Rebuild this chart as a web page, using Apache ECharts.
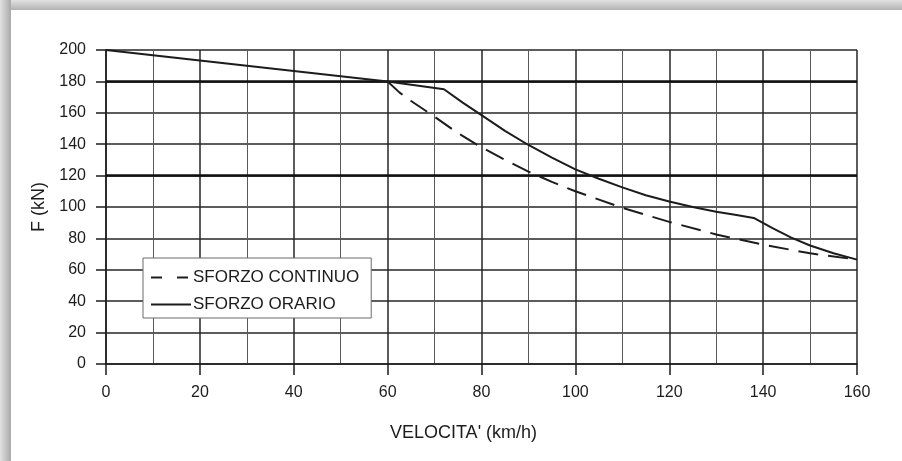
<!DOCTYPE html>
<html>
<head>
<meta charset="utf-8">
<script src="https://cdn.jsdelivr.net/npm/echarts@6/dist/echarts.min.js"></script>
<style>
  html, body { margin: 0; padding: 0; background: #ffffff; }
  #topStrip { position: absolute; left: 0; top: 0; width: 902px; height: 10px;
    background: linear-gradient(to bottom, #e2e2e2, #b2b2b2); }
  #leftStrip { position: absolute; left: 0; top: 0; width: 11px; height: 461px;
    background: linear-gradient(to right, #e2e2e2, #a9a9a9); }
  #chart { position: absolute; left: 0; top: 0; width: 902px; height: 461px; }
</style>
</head>
<body>
<div id="topStrip"></div>
<div id="leftStrip"></div>
<div id="chart"></div>
<script>
// ---- data ----
const xTicks = [0, 20, 40, 60, 80, 100, 120, 140, 160];
const yTicks = [0, 20, 40, 60, 80, 100, 120, 140, 160, 180, 200];

const orarioSpeed = [0, 60, 72, 76, 80, 85, 90, 95, 100, 105, 110, 115, 120, 125, 130, 134, 138, 142, 146, 150, 155, 160];
const orarioForce = [200, 180, 175, 166.5, 158.5, 148.5, 139.5, 131.5, 124, 118, 112.5, 107.5, 103.5, 100, 97, 95, 93, 86.5, 80.5, 75.5, 70.5, 66.5];

const continuoSpeed = [60, 62.5, 65, 70, 75, 80, 85, 90, 95, 100, 110, 120, 130, 140, 150, 160];
const continuoForce = [180, 173, 167.5, 157.5, 147, 138, 130, 122.5, 116, 110, 99.5, 90.5, 82.5, 76, 70.5, 66.5];

const thickLevels = [180, 120];

const seriesNames = ['SFORZO CONTINUO', 'SFORZO ORARIO'];
const xName = "VELOCITA' (km/h)";
const yName = 'F (kN)';

const pair = (xs, ys) => xs.map((x, i) => [x, ys[i]]);

const FONT = 'Liberation Sans, Arial, Helvetica, sans-serif';
const INK = '#1c1c1c';

const chart = echarts.init(document.getElementById('chart'), null, { renderer: 'canvas' });
chart.setOption({
  backgroundColor: 'transparent',
  animation: false,
  grid: { left: 106, right: 45, top: 50, bottom: 97, containLabel: false },
  legend: {
    data: [
      { name: seriesNames[0], lineStyle: { type: [11, 15], width: 2 } },
      { name: seriesNames[1], lineStyle: { type: 'solid', width: 2 } }
    ],
    orient: 'vertical',
    left: 143,
    top: 258,
    itemWidth: 40,
    itemHeight: 20,
    itemGap: 10,
    padding: [11, 12, 5, 7],
    backgroundColor: '#ffffff',
    borderColor: '#6a6a6a',
    borderWidth: 1,
    borderRadius: 0,
    selectedMode: false,
    itemStyle: { opacity: 0 },
    textStyle: { fontFamily: FONT, fontSize: 17, color: INK, padding: [0, 0, 0, -3] }
  },
  xAxis: {
    type: 'value',
    min: 0,
    max: 160,
    interval: 20,
    name: xName,
    nameLocation: 'middle',
    nameGap: 60,
    nameTextStyle: { fontFamily: FONT, fontSize: 18, color: INK, padding: [0, 36, 0, 0] },
    axisLine: { show: true, onZero: false, lineStyle: { color: INK, width: 1.5 } },
    axisTick: { show: true, length: 11, inside: false, lineStyle: { color: INK, width: 1.5 } },
    axisLabel: {
      fontFamily: FONT, fontSize: 16, color: INK, margin: 21,
      customValues: xTicks
    },
    splitLine: { show: true, lineStyle: { color: '#262626', width: 1.5 } },
    minorTick: { show: false, splitNumber: 2 },
    minorSplitLine: { show: true, lineStyle: { color: '#5a5a5a', width: 1 } }
  },
  yAxis: {
    type: 'value',
    min: 0,
    max: 200,
    interval: 20,
    name: yName,
    nameLocation: 'middle',
    nameGap: 58,
    nameRotate: 90,
    nameTextStyle: { fontFamily: FONT, fontSize: 18, color: INK },
    axisLine: { show: true, lineStyle: { color: INK, width: 1.5 } },
    axisTick: { show: true, length: 10, inside: false, lineStyle: { color: INK, width: 1.5 } },
    axisLabel: {
      fontFamily: FONT, fontSize: 16, color: INK, margin: 20,
      customValues: yTicks
    },
    splitLine: { show: true, lineStyle: { color: '#262626', width: 1.5 } }
  },
  series: [
    {
      name: seriesNames[0],
      type: 'line',
      data: pair(continuoSpeed, continuoForce),
      symbol: 'none',
      smooth: false,
      z: 5,
      lineStyle: { color: INK, width: 2, type: [20, 10] },
      itemStyle: { color: INK }
    },
    {
      name: seriesNames[1],
      type: 'line',
      data: pair(orarioSpeed, orarioForce),
      symbol: 'none',
      smooth: false,
      z: 5,
      lineStyle: { color: INK, width: 2, type: 'solid' },
      itemStyle: { color: INK },
      markLine: {
        silent: true,
        symbol: ['none', 'none'],
        label: { show: false },
        lineStyle: { color: '#111111', width: 2.5, type: 'solid' },
        data: thickLevels.map(v => ({ yAxis: v })),
        z: 3
      }
    }
  ]
});
</script>
</body>
</html>
